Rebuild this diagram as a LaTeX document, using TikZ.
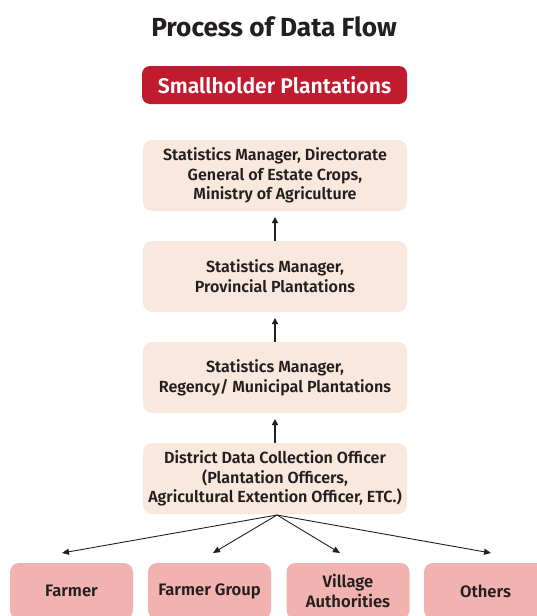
\documentclass[tikz,border=0pt]{standalone}
\usepackage{fontspec}
\setmainfont{Fira Sans}[UprightFont=* SemiBold, BoldFont=* Bold]
\usetikzlibrary{arrows.meta}
\definecolor{redbox}{HTML}{C01B2E}
\definecolor{beige}{HTML}{F8E8DD}
\definecolor{pinkbox}{HTML}{F2B3B0}
\definecolor{ink}{HTML}{231F20}
\begin{document}
\begin{tikzpicture}[x=1pt,y=-1pt,
  lvl/.style={fill=beige,draw=none,rounded corners=9pt,minimum width=264pt,minimum height=71pt,align=center,font=\fontsize{16.1}{19.7}\selectfont,text=ink,inner sep=0pt},
  leaf/.style={fill=pinkbox,draw=none,rounded corners=9pt,minimum width=123pt,minimum height=56pt,align=center,font=\fontsize{16.6}{20}\selectfont,text=ink,inner sep=0pt},
  up/.style={line width=1.5pt,draw=ink,-{Triangle[length=6pt,width=6pt]}},
  down/.style={line width=0.9pt,draw=ink,-{Triangle[length=7pt,width=6pt]}}]
\useasboundingbox (0,0) rectangle (537,616);
\clip (0,0) rectangle (537,616);
\node[font=\bfseries\fontsize{26.2}{30}\selectfont,text=ink] (title) at (274,27) {Process of Data Flow};
\node[fill=redbox,rounded corners=8pt,minimum width=265pt,minimum height=38pt,text=white,font=\fontsize{21.2}{24}\selectfont,inner sep=0pt] (red) at (274.5,85) {Smallholder Plantations};
\node[lvl] (b1) at (275,175.5) {Statistics Manager, Directorate\\General of Estate Crops,\\Ministry of Agriculture};
\node[lvl] (b2) at (275,276.5) {Statistics Manager,\\Provincial Plantations};
\node[lvl] (b3) at (275,377.5) {Statistics Manager,\\Regency/ Municipal Plantations};
\node[lvl] (b4) at (275,478.5) {District Data Collection Officer\\(Plantation Officers,\\Agricultural Extention Officer, ETC.)};
\coordinate (t1) at (275,217);
\coordinate (t2) at (275,318);
\coordinate (t3) at (275,419);
\draw[up] (b2.north) -- (t1);
\draw[up] (b3.north) -- (t2);
\draw[up] (b4.north) -- (t3);
\node[leaf] (f1) at (71.5,591) {Farmer};
\node[leaf] (f2) at (209.5,591) {Farmer Group};
\node[leaf] (f3) at (348,591) {Village\\Authorities};
\node[leaf] (f4) at (485.5,591) {Others};
\coordinate (src) at (277,515);
\coordinate (e1) at (62,553);
\coordinate (e2) at (213,553);
\coordinate (e3) at (340,553);
\coordinate (e4) at (491,553);
\draw[down] (src) -- (e1);
\draw[down] (src) -- (e2);
\draw[down] (src) -- (e3);
\draw[down] (src) -- (e4);
\end{tikzpicture}
\end{document}
